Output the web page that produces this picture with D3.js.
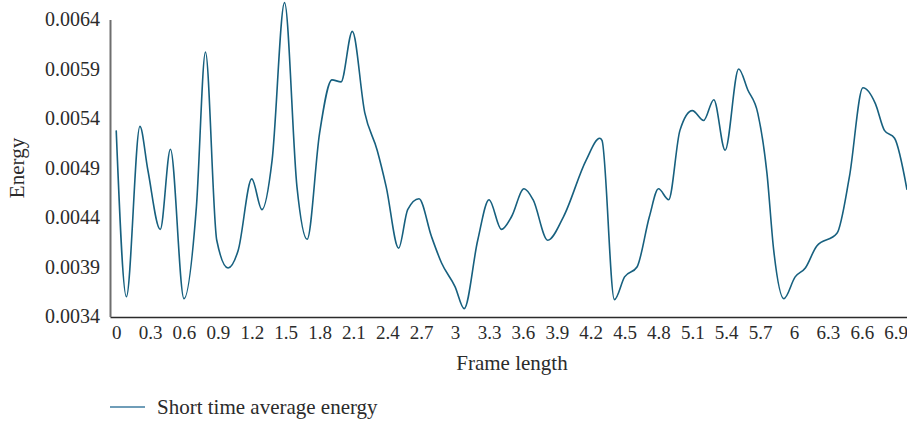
<!DOCTYPE html>
<html>
<head>
<meta charset="utf-8">
<script src="https://cdn.jsdelivr.net/npm/d3@7"></script>
<style>
  body { margin: 0; background: #fff; }
  svg { display: block; font-family: "Liberation Serif", "DejaVu Serif", serif; }
</style>
</head>
<body>
<div class="chart"></div>
<script>
// frame length (x) and short time average energy (y)
var frameLen = [0, 0.09, 0.21, 0.28, 0.39, 0.48, 0.60, 0.71, 0.79, 0.89, 0.99, 1.08, 1.20, 1.29,
    1.38, 1.49, 1.60, 1.69, 1.80, 1.91, 1.99, 2.09, 2.20, 2.31, 2.39, 2.50, 2.58, 2.68, 2.79,
    2.88, 3.00, 3.08, 3.20, 3.30, 3.41, 3.50, 3.61, 3.69, 3.82, 3.96, 4.16, 4.28, 4.30, 4.41,
    4.50, 4.61, 4.72, 4.80, 4.89, 4.99, 5.10, 5.20, 5.29, 5.39, 5.51, 5.59, 5.68, 5.76, 5.82,
    5.91, 6.01, 6.10, 6.20, 6.38, 6.49, 6.61, 6.72, 6.80, 6.89, 7.00];
var energy = [0.00528, 0.00360, 0.00532, 0.00488, 0.00428, 0.00509, 0.00358, 0.00451, 0.00607,
    0.00417, 0.00389, 0.00407, 0.00479, 0.00448, 0.00498, 0.00657, 0.00471, 0.00418, 0.00525,
    0.00579, 0.00577, 0.00628, 0.00546, 0.00508, 0.00471, 0.00409, 0.00448, 0.00459, 0.00421,
    0.00394, 0.00370, 0.00348, 0.00417, 0.00458, 0.00428, 0.00441, 0.00469, 0.00458, 0.00417,
    0.00441, 0.00498, 0.00520, 0.00518, 0.00357, 0.00380, 0.00390, 0.00441, 0.00469, 0.00458,
    0.00528, 0.00548, 0.00538, 0.00559, 0.00508, 0.00590, 0.00569, 0.00545, 0.00485, 0.00407,
    0.00358, 0.00380, 0.00389, 0.00411, 0.00424, 0.00481, 0.00571, 0.00555, 0.00528, 0.00520,
    0.00468];
var xTicks = [0, 0.3, 0.6, 0.9, 1.2, 1.5, 1.8, 2.1, 2.4, 2.7, 3, 3.3, 3.6, 3.9, 4.2, 4.5, 4.8,
    5.1, 5.4, 5.7, 6, 6.3, 6.6, 6.9];
var yTicks = [0.0034, 0.0039, 0.0044, 0.0049, 0.0054, 0.0059, 0.0064];
var seriesName = "Short time average energy";

var svg_width = 907, svg_height = 424;
var plotLeft = 110, plotRight = 907, plotTop = 19.5, plotBottom = 317;
var lineColor = "#17607f";
var textColor = "#2b2b2b";

var data = frameLen.map(function (f, i) {
    return { x: f, y: energy[i] };
});

var svg = d3.select(".chart")
    .append("svg")
    .attr("width", svg_width)
    .attr("height", svg_height);

var xScale = d3.scaleLinear()
    .domain([-0.055, 7.0])
    .range([plotLeft, plotRight]);

var yScale = d3.scaleLinear()
    .domain([0.0034, 0.0064])
    .range([plotBottom - 0.5, plotTop]);

// line (drawn first so the axes sit on top)
var line = d3.line()
    .x(function (d) { return xScale(d.x); })
    .y(function (d) { return yScale(d.y); })
    .curve(d3.curveMonotoneX);

svg.append("path")
    .datum(data)
    .attr("fill", "none")
    .attr("stroke", lineColor)
    .attr("stroke-width", 1.6)
    .attr("d", line);

// x axis
var xAxis = svg.append("g")
    .attr("transform", "translate(0," + plotBottom + ")")
    .call(d3.axisBottom(xScale).tickValues(xTicks).tickSize(0).tickPadding(9)
        .tickFormat(function (d) { return String(d); }));
xAxis.select(".domain").attr("stroke", "#2b2b2b").attr("stroke-width", 1.5);
xAxis.selectAll("text")
    .attr("font-size", 19)
    .attr("font-family", "Liberation Serif")
    .attr("fill", textColor);

// y axis
var yAxis = svg.append("g")
    .attr("transform", "translate(" + plotLeft + ",0)")
    .call(d3.axisLeft(yScale).tickValues(yTicks).tickSize(0).tickPadding(10)
        .tickFormat(d3.format(".4f")));
yAxis.select(".domain").attr("stroke", "#6e6e6e").attr("stroke-width", 2);
yAxis.selectAll("text")
    .attr("font-size", 20)
    .attr("font-family", "Liberation Serif")
    .attr("fill", textColor);

// axis titles
svg.append("text")
    .attr("x", 512)
    .attr("y", 370)
    .attr("text-anchor", "middle")
    .attr("font-size", 21)
    .attr("fill", textColor)
    .text("Frame length");

svg.append("text")
    .attr("transform", "translate(24,168) rotate(-90)")
    .attr("text-anchor", "middle")
    .attr("font-size", 21)
    .attr("fill", textColor)
    .text("Energy");

// legend
svg.append("line")
    .attr("x1", 110).attr("x2", 145)
    .attr("y1", 407).attr("y2", 407)
    .attr("stroke", "#3f7ca0")
    .attr("stroke-width", 1.5);

svg.append("text")
    .attr("x", 157)
    .attr("y", 414)
    .attr("font-size", 21)
    .attr("fill", textColor)
    .text(seriesName);
</script>
</body>
</html>
